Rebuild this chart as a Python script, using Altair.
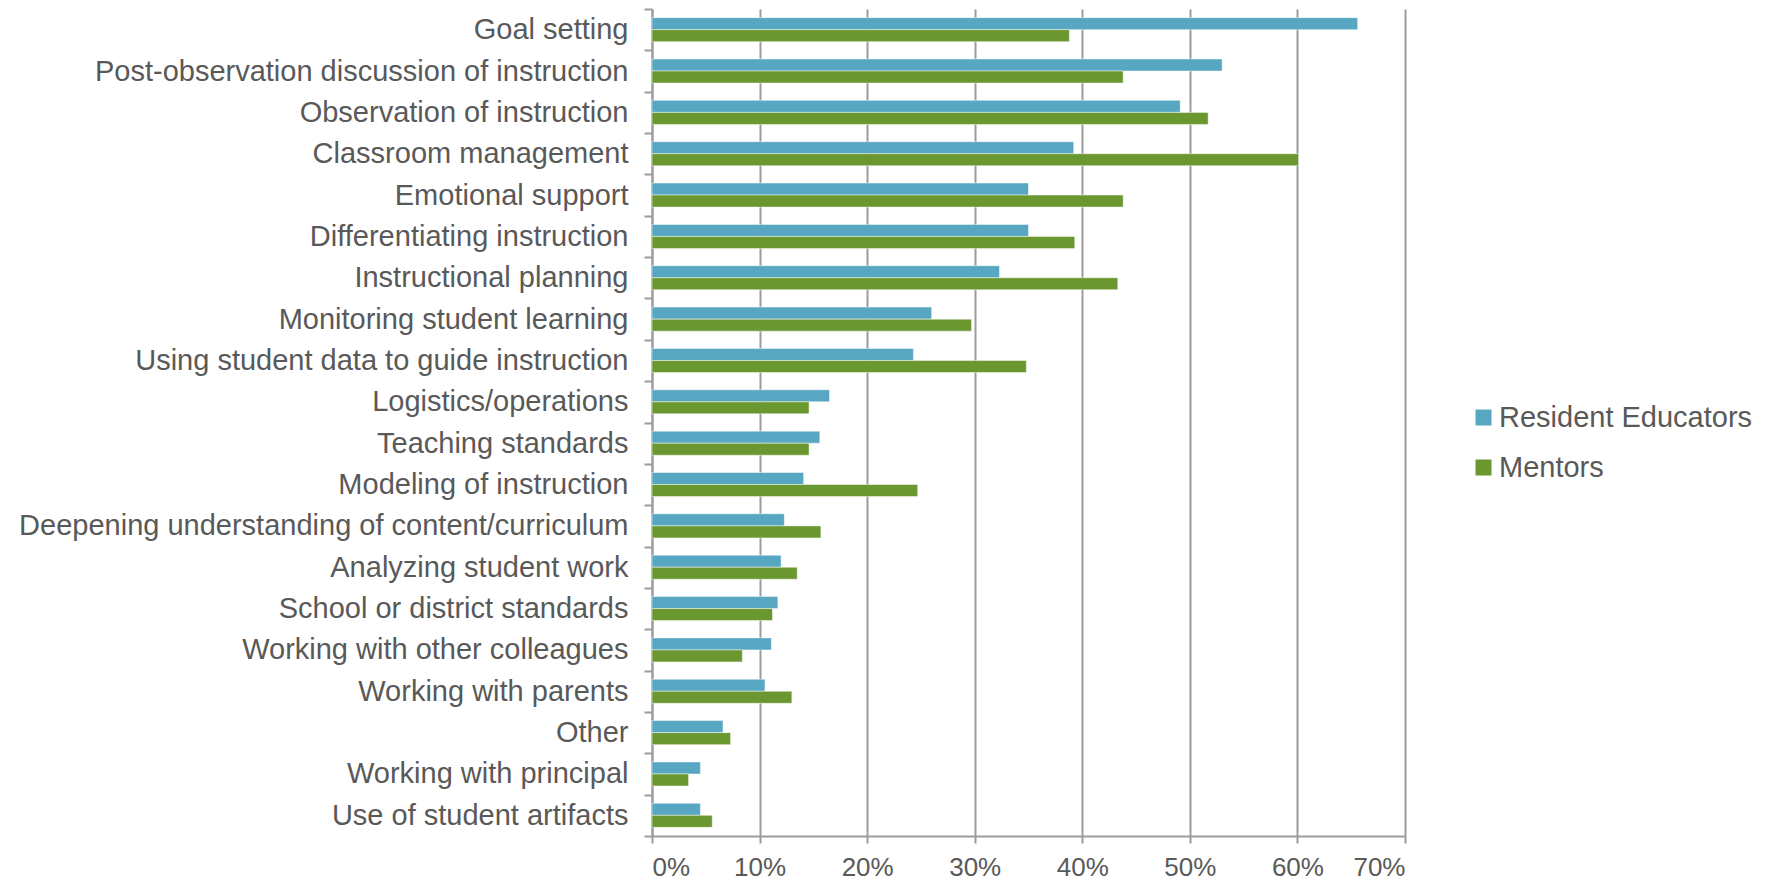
import altair as alt
import pandas as pd

categories = [
    "Goal setting",
    "Post-observation discussion of instruction",
    "Observation of instruction",
    "Classroom management",
    "Emotional support",
    "Differentiating instruction",
    "Instructional planning",
    "Monitoring student learning",
    "Using student data to guide instruction",
    "Logistics/operations",
    "Teaching standards",
    "Modeling of instruction",
    "Deepening understanding of content/curriculum",
    "Analyzing student work",
    "School or district standards",
    "Working with other colleagues",
    "Working with parents",
    "Other",
    "Working with principal",
    "Use of student artifacts",
]
resident_educators = [65.6, 53.0, 49.1, 39.2, 35.0, 35.0, 32.3, 26.0, 24.3, 16.5,
                      15.6, 14.1, 12.3, 12.0, 11.7, 11.1, 10.5, 6.6, 4.5, 4.5]
mentors = [38.8, 43.8, 51.7, 60.1, 43.8, 39.3, 43.3, 29.7, 34.8, 14.6,
           14.6, 24.7, 15.7, 13.5, 11.2, 8.4, 13.0, 7.3, 3.4, 5.6]
series = ["Resident Educators", "Mentors"]
colors = ["#57A6C2", "#6A972F"]
x_ticks = [0, 0.1, 0.2, 0.3, 0.4, 0.5, 0.6, 0.7]

rows = []
for c, r, m in zip(categories, resident_educators, mentors):
    rows.append({"topic": c, "group": series[0], "value": r / 100})
    rows.append({"topic": c, "group": series[1], "value": m / 100})
df = pd.DataFrame(rows)

FONT = "Liberation Sans"
TXT = "#595959"
GRID = "#9C9C9C"

chart = alt.Chart(df).mark_bar(stroke="white", strokeWidth=0.8, strokeOpacity=0.6).encode(
    x=alt.X("value:Q",
            scale=alt.Scale(domain=[0, 0.7], nice=False),
            axis=alt.Axis(values=x_ticks, format=".0%", title=None,
                          grid=True, gridColor=GRID, gridWidth=2,
                          domainColor=GRID, domainWidth=2,
                          tickColor=GRID, tickWidth=2, tickSize=7,
                          labelFont=FONT, labelFontSize=26, labelColor=TXT,
                          labelPadding=11)),
    y=alt.Y("topic:N", sort=categories,
            scale=alt.Scale(paddingInner=0, paddingOuter=0),
            axis=alt.Axis(title=None, grid=False, tickBand="extent",
                          domainColor=GRID, domainWidth=2,
                          tickColor=GRID, tickWidth=2, tickSize=8,
                          labelFont=FONT, labelFontSize=29, labelColor=TXT,
                          labelPadding=16, labelLimit=800)),
    yOffset=alt.YOffset("group:N", sort=series,
                        scale=alt.Scale(paddingInner=0, paddingOuter=0.72)),
    color=alt.Color("group:N", sort=series,
                    scale=alt.Scale(domain=series, range=colors),
                    legend=alt.Legend(title=None, orient="none",
                                      legendX=817, legendY=394,
                                      symbolType="square", symbolSize=256,
                                      symbolStrokeWidth=0, labelOffset=1,
                                      rowPadding=20, labelLimit=400,
                                      labelFont=FONT, labelFontSize=29,
                                      labelColor=TXT)),
).properties(
    width=753, height=827,
    autosize=alt.AutoSizeParams(type="none"),
    padding={"top": 1, "left": 644, "right": 359, "bottom": 45},
).configure_view(stroke=None)

chart.save("out.html", embed_options={"renderer": "svg", "actions": False})
